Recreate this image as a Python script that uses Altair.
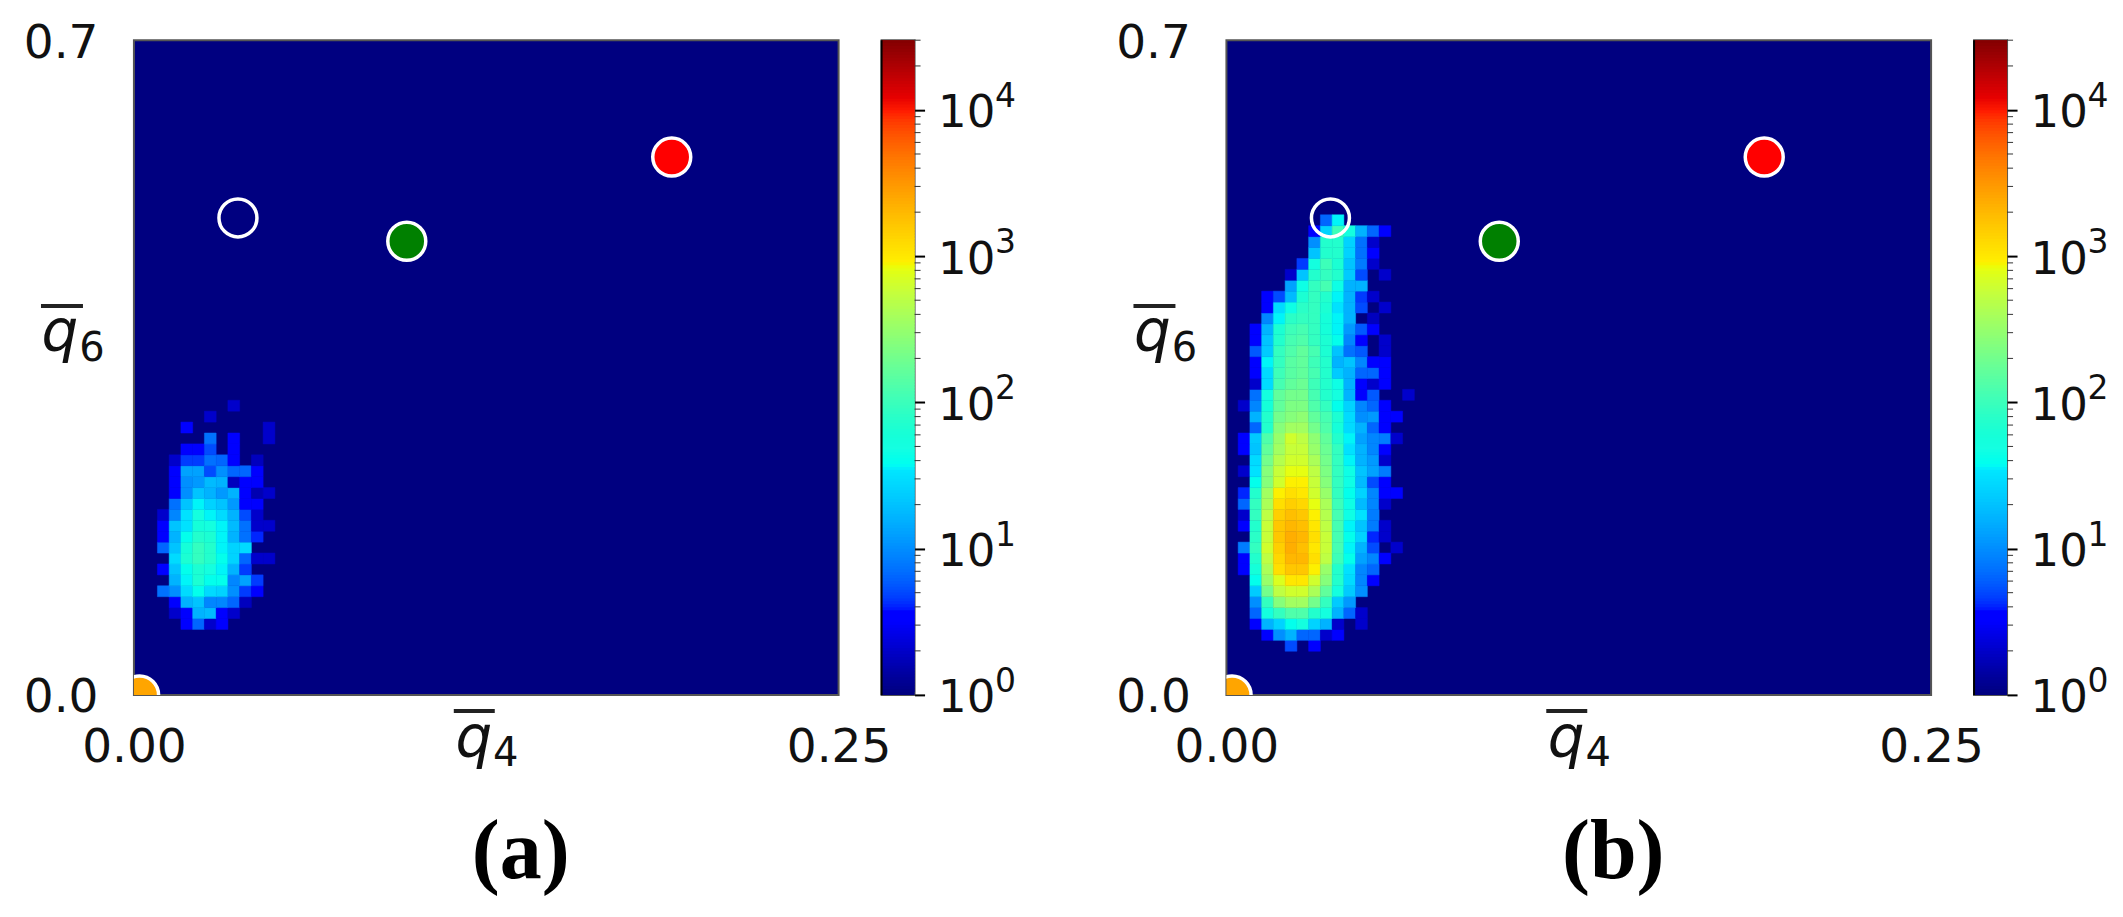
"""Two q4/q6 order-parameter histograms with jet log colour bars."""

import altair as alt
import pandas as pd

Q4_MAX = 0.25
Q6_MAX = 0.7
BINS = 60
COUNT_MAX = 30000
LOG_MAX = 4.4771

# Histogram cells as log10(count). Row = q6 bin from the bottom.
# Panel (a): rows 6-26, columns start at bin 2
FIRST_ROW_A = 6
FIRST_COL_A = 2
ROWS_A = [
    [0, 0, .5, .8, .3, .5],
    [0, .3, .55, 1.2, 1.25, .5, .3],
    [0, .5, 1.2, 1.3, .95, .95, .8, .25],
    [.85, 1.0, 1.45, 1.6, 1.45, 1.4, 1.0, .65, .5],
    [0, 1.2, 1.55, 1.8, 1.6, 1.6, .95, 1.1, .65],
    [.5, 1.3, 1.6, 1.8, 1.7, 1.55, 1.2, .65],
    [0, 1.45, 1.8, 1.95, 1.85, 1.6, 1.4, .8, .3, .3],
    [.8, 1.3, 1.75, 1.95, 1.85, 1.55, 1.4, 1.45],
    [.5, 1.2, 1.6, 1.85, 1.8, 1.55, 1.2, .85, .6],
    [.55, 1.3, 1.5, 1.75, 1.7, 1.55, 1.25, .85, .3, .3],
    [.3, .95, 1.5, 1.7, 1.55, 1.45, 1.2, .7, .3],
    [0, .85, 1.3, 1.55, 1.4, 1.3, 1.05, .55, .5],
    [0, .5, 1.0, 1.3, 1.2, 1.05, 1.2, .55, .2, .3],
    [0, .5, 1.0, 1.05, 1.25, 1.2, .25, .5, .55],
    [0, .5, 1.1, 1.1, .7, 1.0, .8, .8, .55],
    [0, .3, .65, .65, .85, .8, .55, 0, .25],
    [0, 0, .5, .5, .7, 0, .55],
    [0, 0, 0, 0, .85, 0, .55, 0, 0, .3],
    [0, 0, .5, 0, 0, 0, 0, 0, 0, .3],
    [0, 0, 0, 0, .3],
    [0, 0, 0, 0, 0, 0, .3],
]
# Panel (b): rows 4-43, columns start at bin 1
FIRST_ROW_B = 4
FIRST_COL_B = 1
ROWS_B = [
    [0, 0, 0, 0, .7, 0, .5],
    [0, 0, .5, 1.0, 1.2, .8, .8, .3, .5],
    [0, .5, 1.2, 1.4, 1.6, 1.7, 1.4, 1.2, .3, 0, .3],
    [0, .8, 1.7, 1.95, 2.1, 2.1, 1.85, 1.7, 1.2, .8, .3],
    [0, 1.0, 1.95, 2.4, 2.55, 2.55, 2.3, 1.95, 1.35, 1.05],
    [0, 1.35, 2.3, 2.7, 2.8, 2.8, 2.6, 2.2, 1.7, 1.35, 1.0],
    [0, 1.6, 2.5, 2.85, 3.0, 3.0, 2.8, 2.4, 1.85, 1.45, .95, .55],
    [.5, 1.75, 2.6, 3.05, 3.2, 3.2, 2.95, 2.5, 1.85, 1.5, .95, .8],
    [.5, 1.85, 2.7, 3.1, 3.3, 3.3, 3.05, 2.7, 2.0, 1.6, 1.1, .95, .5],
    [.9, 1.95, 2.8, 3.15, 3.35, 3.25, 3.0, 2.75, 2.05, 1.55, 1.2, .7, 0, .3],
    [0, 1.9, 2.75, 3.2, 3.35, 3.3, 3.05, 2.75, 2.05, 1.6, 1.4, .6, .3],
    [.5, 1.85, 2.75, 3.2, 3.3, 3.25, 3.0, 2.7, 2.05, 1.55, 1.3, .9, .3],
    [.3, 1.95, 2.7, 3.15, 3.25, 3.2, 2.95, 2.65, 2.05, 1.65, 1.5, .9],
    [.8, 1.95, 2.6, 3.05, 3.15, 3.1, 2.9, 2.6, 2.0, 1.65, 1.25, .95, .3],
    [.6, 1.85, 2.55, 2.95, 3.05, 3.0, 2.8, 2.5, 1.95, 1.6, 1.4, .95, .5, .55],
    [0, 1.6, 2.4, 2.8, 2.95, 2.95, 2.75, 2.4, 1.95, 1.65, 1.25, .7, .5],
    [.3, 1.5, 2.4, 2.75, 2.9, 2.9, 2.7, 2.35, 1.95, 1.65, 1.3, 1.1, .9],
    [0, 1.45, 2.3, 2.65, 2.8, 2.8, 2.6, 2.3, 1.95, 1.55, 1.2, 1.05, .3],
    [.5, 1.3, 2.2, 2.55, 2.75, 2.75, 2.5, 2.25, 1.95, 1.5, 1.2, .95, .5],
    [.5, 1.35, 2.1, 2.5, 2.8, 2.7, 2.45, 2.2, 1.85, 1.55, 1.1, .95, .9, .3],
    [0, .8, 1.85, 2.4, 2.55, 2.55, 2.3, 2.1, 1.75, 1.45, 1.2, .8, .5],
    [0, 1.2, 1.85, 2.3, 2.4, 2.45, 2.2, 2.05, 1.8, 1.45, 1.0, 1.05, .55, .5],
    [.3, .95, 1.75, 2.2, 2.35, 2.35, 2.1, 1.95, 1.6, 1.4, .95, .8, .5],
    [0, .85, 1.7, 2.2, 2.3, 2.3, 2.05, 1.85, 1.7, 1.2, .55, .75, 0, 0, .3],
    [0, .3, 1.45, 2.05, 2.2, 2.25, 2.0, 1.85, 1.65, 1.2, .55, .3, .5],
    [0, .5, 1.45, 2.0, 2.15, 2.2, 2.05, 1.85, 1.35, 1.2, .8, .8, .5],
    [0, .55, 1.55, 1.95, 2.15, 2.2, 2.0, 1.85, 1.2, 1.3, .95, .5, .5],
    [0, .75, 1.35, 1.95, 2.1, 2.2, 2.05, 1.8, 1.3, .85, .75, 0, .3],
    [0, .5, 1.3, 1.85, 2.05, 2.1, 1.95, 1.8, 1.6, .95, .55, 0, .3],
    [0, .55, 1.2, 1.8, 2.0, 2.05, 1.95, 1.75, 1.55, 1.05, .75, .55],
    [0, 0, .95, 1.55, 1.9, 1.95, 1.95, 1.75, 1.55, 1.2, 0, .25],
    [0, 0, .5, 1.45, 1.65, 1.9, 1.95, 1.8, 1.5, 1.2, .7, 0, .3],
    [0, 0, .5, .7, 1.25, 1.8, 1.95, 1.85, 1.55, 1.2, .65, .3],
    [0, 0, 0, 0, 1.1, 1.65, 1.95, 2.05, 1.65, 1.2, 1.2],
    [0, 0, 0, 0, .3, 1.3, 1.85, 1.95, 1.85, 1.35, .7, 0, .3],
    [0, 0, 0, 0, 0, .65, 1.7, 2.0, 1.8, 1.3, .9, .3],
    [0, 0, 0, 0, 0, 0, 1.3, 1.85, 1.85, 1.4, .85, .5],
    [0, 0, 0, 0, 0, 0, 1.0, 1.85, 1.85, 1.4, .85, .3],
    [0, 0, 0, 0, 0, 0, .5, 1.4, 2.0, 1.7, 1.2, .8, .5],
    [0, 0, 0, 0, 0, 0, 0, .8, 1.55],
]

# Reference structures drawn on both panels
PHASES = ["hcp", "fcc", "bcc", "liquid"]
PHASE_Q4 = [0.1908, 0.0968, 0.0369, 0.002]
PHASE_Q6 = [0.575, 0.485, 0.51, 0.0]
PHASE_FILL = ["#ff0000", "#008000", "transparent", "#ffa500"]

COLORBAR_MAJOR = [1, 10, 100, 1000, 10000]
COLORBAR_EXPONENT = ["0", "1", "2", "3", "4"]
COLORBAR_MINOR = [
    2, 3, 4, 5, 6, 7, 8, 9,
    20, 30, 40, 50, 60, 70, 80, 90,
    200, 300, 400, 500, 600, 700, 800, 900,
    2000, 3000, 4000, 5000, 6000, 7000, 8000, 9000,
    20000, 30000,
]

# matplotlib jet, as breakpoints on the 0-1 colour position
JET_POS = [0, .11, .125, .34, .35, .375, .64, .65, .66, .89, .91, 1]
JET_HEX = ["#000080", "#0000ff", "#0000ff", "#00e5ff", "#00fff0", "#15ffe1", "#ddff19",
           "#e8ff0f", "#ffee00", "#ff1a00", "#e60000", "#800000"]
COLOR_SCALE = alt.Scale(
    type="log",
    domain=[10 ** (p * LOG_MAX) for p in JET_POS],
    range=JET_HEX,
)

FONT = "DejaVu Sans"
ONE_ROW = pd.DataFrame({"k": [0]})


def cells(rows, first_row, first_col):
    """Rows of log10 counts to one record per occupied bin."""
    out = []
    for r, row in enumerate(rows):
        for c, v in enumerate(row):
            if v > 0:
                i = first_col + c
                j = first_row + r
                out.append({
                    "x0": i * Q4_MAX / BINS, "x1": (i + 1) * Q4_MAX / BINS,
                    "y0": j * Q6_MAX / BINS, "y1": (j + 1) * Q6_MAX / BINS,
                    "count": 10 ** v,
                })
    return pd.DataFrame(out)


def note(text, x, y, **style):
    return alt.Chart(ONE_ROW).mark_text(text=text, align="center", baseline="alphabetic", **style).encode(
        x=alt.value(x), y=alt.value(y)
    )


def overbar(x, x2, y):
    return alt.Chart(ONE_ROW).mark_rule(color="#222", strokeWidth=4).encode(
        x=alt.value(x), x2=alt.value(x2), y=alt.value(y)
    )


def panel(rows, first_row, first_col, caption):
    heat = (
        alt.Chart(cells(rows, first_row, first_col))
        .mark_rect(strokeWidth=0.5)
        .encode(
            x=alt.X(
                "x0:Q",
                scale=alt.Scale(domain=[0, Q4_MAX], nice=False),
                axis=alt.Axis(
                    values=[0, Q4_MAX], format=".2f", grid=False, ticks=False, domain=False,
                    labelFont=FONT, labelFontSize=47, labelPadding=30, labelColor="#111",
                    labelFlush=False, labelOverlap=False, title=None,
                ),
            ),
            x2="x1:Q",
            y=alt.Y(
                "y0:Q",
                scale=alt.Scale(domain=[0, Q6_MAX], nice=False),
                axis=alt.Axis(
                    values=[0, Q6_MAX], format=".1f", grid=False, ticks=False, domain=False,
                    labelFont=FONT, labelFontSize=47, labelPadding=36, labelColor="#111",
                    labelFlush=False, labelOverlap=False, labelOffset=3, title=None,
                ),
            ),
            y2="y1:Q",
            color=alt.Color("count:Q", scale=COLOR_SCALE, legend=None),
            stroke=alt.Stroke("count:Q", scale=COLOR_SCALE, legend=None),
        )
    )
    phases = pd.DataFrame({"phase": PHASES, "q4": PHASE_Q4, "q6": PHASE_Q6})
    dots = (
        alt.Chart(phases)
        .mark_point(filled=True, size=1444, stroke="white", strokeWidth=3.5,
                    strokeOpacity=1, opacity=1, clip=True)
        .encode(
            x="q4:Q",
            y="q6:Q",
            fill=alt.Fill("phase:N", scale=alt.Scale(domain=PHASES, range=PHASE_FILL), legend=None),
        )
    )
    math = dict(font=FONT, fontStyle="italic", fontSize=58, color="#111")
    sub = dict(font=FONT, fontSize=40, color="#111")
    return alt.layer(
        heat,
        dots,
        note("q", 340, 717, **math),
        overbar(320, 361, 671),
        note("4", 372, 726, **sub),
        note("q", -74, 311, **math),
        overbar(-93, -51, 266),
        note("6", -42, 321, **sub),
        note(caption, 387, 838, font="Liberation Serif", fontSize=84, fontWeight="bold", color="black"),
    ).properties(
        width=705,
        height=655,
        view=alt.ViewConfig(fill="#000080", stroke="#555555", strokeWidth=2),
    )


def colorbar():
    # the gradient is a stack of log-spaced strips, each one reaching over the next to hide seams
    steps = 224
    levels = [10 ** (k * LOG_MAX / steps) for k in range(steps)]
    strips = pd.DataFrame({
        "low": levels,
        "high": [min(v * 10 ** (2.2 * LOG_MAX / steps), COUNT_MAX) for v in levels],
    })
    y_scale = alt.Scale(type="log", domain=[1, COUNT_MAX], nice=False)
    bar = (
        alt.Chart(strips)
        .mark_rect()
        .encode(
            y=alt.Y(
                "low:Q",
                scale=y_scale,
                axis=alt.Axis(
                    orient="right", values=COLORBAR_MAJOR, grid=False, domain=False,
                    tickSize=10, tickColor="black", tickWidth=2, title=None,
                    labelFont=FONT, labelFontSize=45, labelPadding=13, labelColor="#111",
                    labelFlush=False, labelOverlap=False, labelOffset=3,
                    labelExpr="'10'",
                ),
            ),
            y2="high:Q",
            color=alt.Color("low:Q", scale=COLOR_SCALE, legend=None),
        )
    )
    minor = (
        alt.Chart(pd.DataFrame({"v": COLORBAR_MINOR}))
        .mark_rule(color="#333", strokeWidth=1)
        .encode(y=alt.Y("v:Q", scale=y_scale), x=alt.value(33), x2=alt.value(39))
    )
    edge = (
        alt.Chart(ONE_ROW)
        .mark_rule(color="black", strokeWidth=2)
        .encode(x=alt.value(0), y=alt.value(0), y2=alt.value(655))
    )
    exponents = (
        alt.Chart(pd.DataFrame({"v": COLORBAR_MAJOR, "e": COLORBAR_EXPONENT}))
        .mark_text(font=FONT, fontSize=33, color="#111", align="center", baseline="alphabetic", dy=-3)
        .encode(y=alt.Y("v:Q", scale=y_scale), x=alt.value(124), text="e:N")
    )
    return (bar + minor + edge + exponents).properties(
        width=33,
        height=655,
        view=alt.ViewConfig(stroke="#555555", strokeWidth=2),
    )


# keeps the two panel pairs apart, nothing is drawn in it
spacer = (
    alt.Chart(ONE_ROW)
    .mark_point(opacity=0)
    .encode(x=alt.value(0), y=alt.value(0))
    .properties(width=226, height=655, view=alt.ViewConfig(strokeWidth=0))
)

chart = alt.hconcat(
    panel(ROWS_A, FIRST_ROW_A, FIRST_COL_A, "(a)"),
    colorbar(),
    spacer,
    panel(ROWS_B, FIRST_ROW_B, FIRST_COL_B, "(b)"),
    colorbar(),
    spacing=43,
    bounds="flush",
).properties(padding={"left": 14, "top": 10, "right": 5, "bottom": 5})

chart.save("out.html", embed_options={"renderer": "svg", "actions": False})
